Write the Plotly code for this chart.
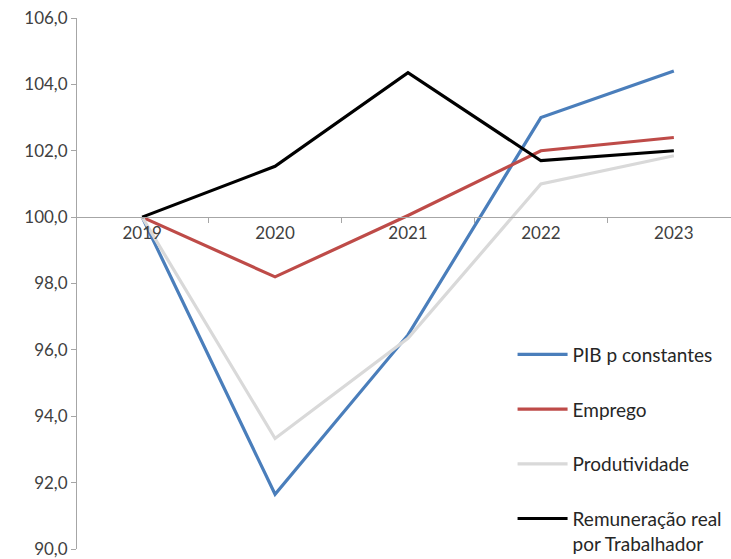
import plotly.graph_objects as go

anos = ['2019', '2020', '2021', '2022', '2023']
pib = [100.0, 91.65, 96.45, 103.0, 104.4]
emprego = [100.0, 98.2, 100.05, 102.0, 102.4]
produtividade = [100.0, 93.33, 96.35, 101.0, 101.85]
remuneracao = [100.0, 101.53, 104.35, 101.7, 102.0]

series = [
    ('PIB p constantes', pib, '#4A7EBB'),
    ('Emprego', emprego, '#BE4B48'),
    ('Produtividade', produtividade, '#D9D9D9'),
    ('Remuneração real<br>por Trabalhador', remuneracao, '#000000'),
]

fig = go.Figure()
for i, (nome, valores, cor) in enumerate(series):
    fig.add_trace(go.Scatter(
        x=anos, y=valores, name=nome, mode='lines',
        line=dict(color=cor, width=3.2),
        legendgroup=str(i),
    ))

fig.update_layout(
    width=731, height=559,
    margin=dict(l=77, r=0, t=18, b=10, autoexpand=False),
    plot_bgcolor='white', paper_bgcolor='white',
    font=dict(family='Lato', size=17, color='#404040'),
    separators=',.',
    showlegend=True,
    legend=dict(
        x=0.666, y=0.402, xanchor='left', yanchor='top',
        tracegroupgap=27, itemwidth=50, valign='top',
        font=dict(size=19, color='#262626'),
        bgcolor='rgba(0,0,0,0)',
    ),
)

fig.update_xaxes(
    type='category', range=[-0.49, 4.43],
    anchor='free', position=0.625, automargin=False,
    showline=True, linecolor='#A6A6A6', linewidth=1,
    ticks='outside', tickson='boundaries', ticklen=5, tickcolor='#A6A6A6',
    showgrid=False, zeroline=False,
)
fig.update_yaxes(
    range=[90, 106], dtick=2, tickformat='.1f', automargin=False,
    ticklabeloverflow='allow',
    showline=True, linecolor='#A6A6A6', linewidth=1,
    ticks='outside', ticklen=5, tickcolor='#A6A6A6',
    showgrid=False, zeroline=False,
)

# the page body has a default 8px margin; remove it so the figure fills the window
fig.write_html('out.html', config={'displayModeBar': False},
               post_script="document.body.style.margin='0';")
